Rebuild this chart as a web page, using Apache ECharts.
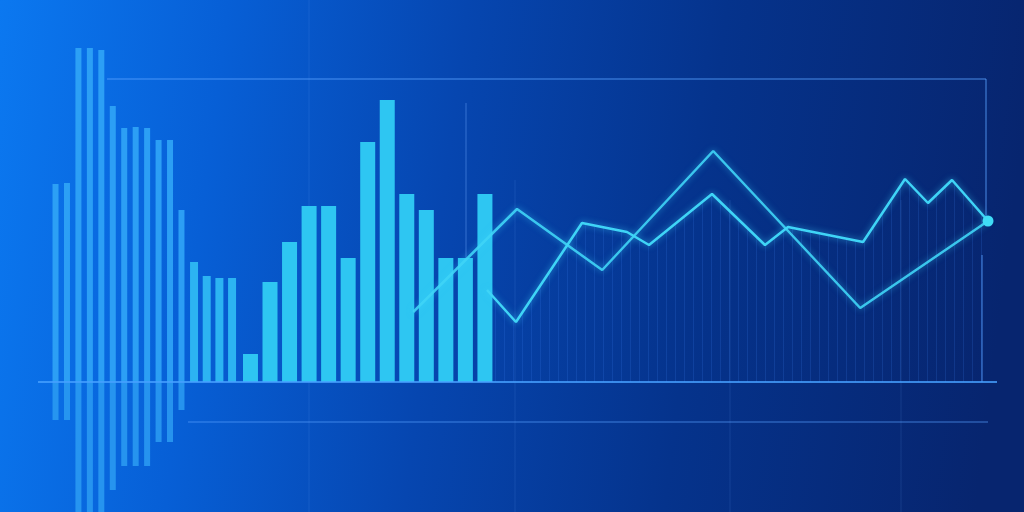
<!DOCTYPE html>
<html><head><meta charset="utf-8">
<script src="https://cdn.jsdelivr.net/npm/echarts@6/dist/echarts.min.js"></script>
<style>html,body{margin:0;padding:0;background:#0848b0;overflow:hidden}#c{width:1024px;height:512px}</style>
</head><body><div id="c"></div><script>
// ---- data (values in chart units; baseline = 0) ----
const thinCats = ['t1','t2','t3','t4','t5','t6','t7','t8','t9','t10','t11','t12'];
const thinBars = [49.5, 49.75, 83.5, 83.5, 83, 69, 63.5, 63.75, 63.5, 60.5, 60.5, 43];
const thinReflect = [-9.5, -9.5, -34, -34, -34, -27, -21, -21, -21, -15, -15, -7];
const midCats = ['m1','m2','m3','m4'];
const midBars = [30, 26.5, 26, 26];
const wideCats = ['w1','w2','w3','w4','w5','w6','w7','w8','w9','w10','w11','w12','w13'];
const wideBars = [7, 25, 35, 44, 44, 31, 60, 70.5, 47, 43, 31, 31, 47];
const lineAx = [2.2, 19.5, 33.7, 52.2, 76.7, 98];
const lineAy = [17.5, 43.25, 28, 57.75, 18.5, 40.25];
const lineBx = [14.5, 19.33, 30.33, 37.83, 41.5, 52, 60.83, 64.67, 77.17, 84.17, 88, 92, 98];
const lineBy = [23, 15, 39.75, 37.5, 34.25, 47, 34.25, 38.75, 35, 50.75, 44.75, 50.5, 40.25];

const chart = echarts.init(document.getElementById('c'), null, {renderer:'canvas'});

// stripe pattern for hatch under line B
const pc = document.createElement('canvas');
pc.width = 9; pc.height = 4;
const pctx = pc.getContext('2d');
pctx.fillStyle = 'rgba(70,140,255,0.24)';
pctx.fillRect(0,0,1,4);

const yMin = -32.5, yMax = 90;
function yAx(){ return {type:'value', min:yMin, max:yMax, show:false}; }
const gridTop = 22, gridBottom = 0;

const lineColor = '#3fd4f6';
const pairs = (xs, ys) => xs.map((x,i)=>[x, ys[i]]);
const bData = pairs(lineBx, lineBy);
const aData = pairs(lineAx, lineAy);
const lastB = bData.length-1;
const bItems = bData.map((v,i)=> i===lastB ? {value:v, symbol:'circle', symbolSize:11, itemStyle:{color:'#40dcf6'}} : {value:v, symbol:'none'});

const faint = 'rgba(110,170,255,0.14)';
const frame = 'rgba(90,160,255,0.55)';
function ln(x1,y1,x2,y2,stroke,w){ return {type:'line', silent:true, z:-1, shape:{x1,y1,x2,y2}, style:{stroke, lineWidth:w}}; }

chart.setOption({
  animation:false,
  backgroundColor: new echarts.graphic.LinearGradient(0,0,1,0.25,[
    {offset:0, color:'#0b78f0'},
    {offset:0.22, color:'#075fd6'},
    {offset:0.45, color:'#0646b0'},
    {offset:0.7, color:'#05338c'},
    {offset:1, color:'#07256f'}
  ]),
  graphic: [
    ln(309,0,309,512,faint,1),
    ln(515,180,515,512,faint,1),
    ln(730,200,730,512,faint,1),
    ln(901,200,901,512,faint,1),
    ln(466,103,466,277,'rgba(110,170,255,0.45)',1),
    ln(107,79,986,79,frame,1.5),
    ln(986,79,986,221,frame,1.5),
    ln(982,255,982,382,frame,1.5),
    ln(188,422,988,422,'rgba(90,160,255,0.45)',1.5),
    {type:'line', silent:true, z:10, shape:{x1:38,y1:382,x2:997,y2:382}, style:{stroke:'rgba(70,160,255,0.8)', lineWidth:2}}
  ],
  grid: [
    {left:49.8, width:137.4, top:gridTop, bottom:gridBottom},
    {left:187.7, width:50.7, top:gridTop, bottom:gridBottom},
    {left:240.7, width:254, top:gridTop, bottom:gridBottom},
    {left:400, width:600, top:gridTop, bottom:gridBottom}
  ],
  xAxis: [
    {type:'category', data:thinCats, gridIndex:0, show:false},
    {type:'category', data:midCats, gridIndex:1, show:false},
    {type:'category', data:wideCats, gridIndex:2, show:false},
    {type:'value', min:0, max:100, gridIndex:3, show:false}
  ],
  yAxis: [ Object.assign(yAx(),{gridIndex:0}), Object.assign(yAx(),{gridIndex:1}), Object.assign(yAx(),{gridIndex:2}), Object.assign(yAx(),{gridIndex:3}) ],
  series: [
    {type:'bar', xAxisIndex:0, yAxisIndex:0, stack:'t', data:thinBars, barWidth:6, itemStyle:{color:'rgba(48,164,246,0.92)'}},
    {type:'bar', xAxisIndex:0, yAxisIndex:0, stack:'t', data:thinReflect, barWidth:6, clip:false, itemStyle:{color:'rgba(44,156,242,0.85)'}},
    {type:'bar', xAxisIndex:1, yAxisIndex:1, data:midBars, barWidth:8, itemStyle:{color:'#2cb4f2'}},
    {type:'bar', xAxisIndex:2, yAxisIndex:2, data:wideBars, barWidth:15, itemStyle:{color:'#2ec6f2'}},
    {type:'line', xAxisIndex:3, yAxisIndex:3, data:bItems, showSymbol:true, symbol:'none',
      lineStyle:{color:lineColor, width:2.5, shadowColor:'rgba(60,210,255,0.6)', shadowBlur:6},
      areaStyle:{color:{image:pc, repeat:'repeat'}, origin:'auto'}, z:5},
    {type:'line', xAxisIndex:3, yAxisIndex:3, data:aData, showSymbol:false, symbol:'none',
      lineStyle:{color:lineColor, width:2.5, opacity:0.9, shadowColor:'rgba(60,210,255,0.6)', shadowBlur:6}, z:5}
  ]
});
</script></body></html>
